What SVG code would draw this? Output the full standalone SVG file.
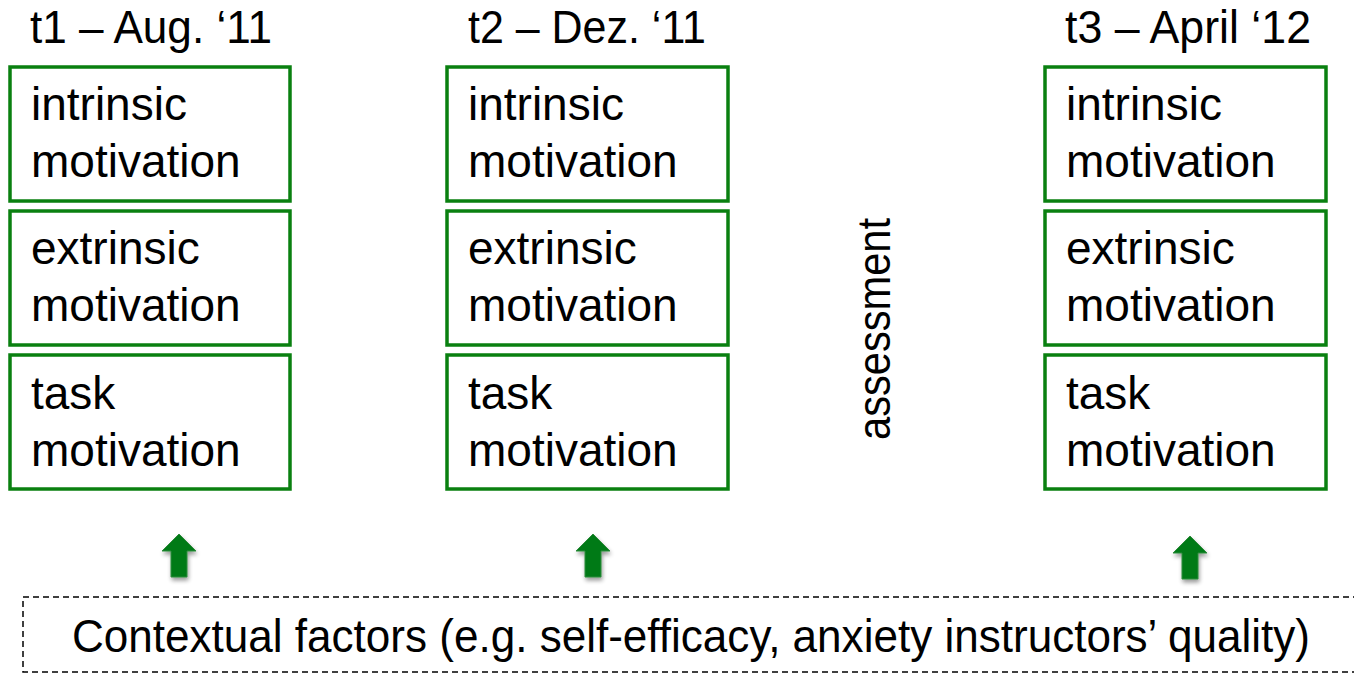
<svg xmlns="http://www.w3.org/2000/svg" width="1354" height="674" viewBox="0 0 1354 674">
<style>
text{font-family:"Liberation Sans",Arial,sans-serif;font-size:46px;fill:#000}
.box{fill:#fff;stroke:#0A8010;stroke-width:3.5}
.arr{fill:#007A18;stroke:#2E8B3A;stroke-width:1}
</style>
<defs>
<filter id="sh" x="-50%" y="-50%" width="200%" height="200%">
<feGaussianBlur in="SourceAlpha" stdDeviation="2"/>
<feOffset dx="1" dy="3"/>
<feComponentTransfer><feFuncA type="linear" slope="0.4"/></feComponentTransfer>
<feMerge><feMergeNode/><feMergeNode in="SourceGraphic"/></feMerge>
</filter>
<path id="up" d="M0,0 L17,17 L8,17 L8,43 L-8,43 L-8,17 L-17,17 Z"/>
</defs>
<rect width="1354" height="674" fill="#fff"/>
<g id="titles">
<text x="30" y="43" textLength="242" lengthAdjust="spacingAndGlyphs">t1 – Aug. ‘11</text>
<text x="468" y="43" textLength="238" lengthAdjust="spacingAndGlyphs">t2 – Dez. ‘11</text>
<text x="1065" y="43" textLength="246" lengthAdjust="spacingAndGlyphs">t3 – April ‘12</text>
</g>
<g id="t1-intrinsic"><rect class="box" x="10" y="67" width="280" height="134"/><text x="31" y="120">intrinsic</text><text x="31" y="177">motivation</text></g>
<g id="t1-extrinsic"><rect class="box" x="10" y="211" width="280" height="134"/><text x="31" y="264">extrinsic</text><text x="31" y="321">motivation</text></g>
<g id="t1-task"><rect class="box" x="10" y="355" width="280" height="134"/><text x="31" y="409">task</text><text x="31" y="466">motivation</text></g>
<g id="t2-intrinsic"><rect class="box" x="447" y="67" width="281" height="134"/><text x="468" y="120">intrinsic</text><text x="468" y="177">motivation</text></g>
<g id="t2-extrinsic"><rect class="box" x="447" y="211" width="281" height="134"/><text x="468" y="264">extrinsic</text><text x="468" y="321">motivation</text></g>
<g id="t2-task"><rect class="box" x="447" y="355" width="281" height="134"/><text x="468" y="409">task</text><text x="468" y="466">motivation</text></g>
<g id="t3-intrinsic"><rect class="box" x="1045" y="67" width="281" height="134"/><text x="1066" y="120">intrinsic</text><text x="1066" y="177">motivation</text></g>
<g id="t3-extrinsic"><rect class="box" x="1045" y="211" width="281" height="134"/><text x="1066" y="264">extrinsic</text><text x="1066" y="321">motivation</text></g>
<g id="t3-task"><rect class="box" x="1045" y="355" width="281" height="134"/><text x="1066" y="409">task</text><text x="1066" y="466">motivation</text></g>
<g id="assessment"><text transform="translate(890,329) rotate(-90)" text-anchor="middle" textLength="222" lengthAdjust="spacingAndGlyphs" x="0" y="0">assessment</text></g>
<g id="connectors">
<use href="#up" class="arr" filter="url(#sh)" transform="translate(179,534)"/>
<use href="#up" class="arr" filter="url(#sh)" transform="translate(593,534)"/>
<use href="#up" class="arr" filter="url(#sh)" transform="translate(1190,536)"/>
</g>
<g id="context">
<rect x="23" y="597" width="1360" height="75" fill="none" stroke="#000" stroke-width="1.5" stroke-dasharray="6,4"/>
<text x="72" y="652" textLength="1238" lengthAdjust="spacingAndGlyphs">Contextual factors (e.g. self-efficacy, anxiety instructors’ quality)</text>
</g>
</svg>
